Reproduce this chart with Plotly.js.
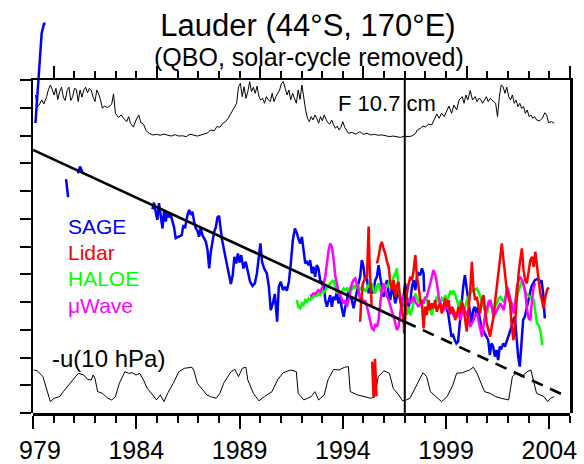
<!DOCTYPE html>
<html><head><meta charset="utf-8">
<script src="https://cdn.plot.ly/plotly-3.0.1.min.js"></script>
<style>html,body{margin:0;padding:0;background:#fff}#chart{width:584px;height:464px}</style>
</head><body><div id="chart"></div>
<script>
// ---- data (years, values in the chart's arbitrary stacked units) ----
const f107 = [[1979.12,11.46],[1979.21,11.04],[1979.30,11.10],[1979.42,11.28],[1979.53,11.14],[1979.66,11.40],[1979.75,11.66],[1979.84,11.82],[1979.93,11.66],[1980.02,11.46],[1980.11,11.70],[1980.20,11.30],[1980.29,11.58],[1980.38,11.74],[1980.47,11.38],[1980.56,11.26],[1980.65,11.62],[1980.74,11.74],[1980.83,11.26],[1980.92,11.40],[1981.01,11.70],[1981.10,11.66],[1981.19,11.22],[1981.28,11.64],[1981.37,11.38],[1981.46,11.64],[1981.55,11.74],[1981.64,11.54],[1981.73,11.70],[1981.82,11.64],[1981.91,11.38],[1982.00,11.22],[1982.09,11.64],[1982.18,11.50],[1982.27,11.28],[1982.36,10.98],[1982.45,11.06],[1982.60,11.01],[1982.72,11.06],[1982.81,11.13],[1982.90,11.50],[1982.99,10.80],[1983.14,10.65],[1983.27,10.74],[1983.39,10.62],[1983.54,10.50],[1983.63,10.68],[1983.72,10.44],[1983.86,10.30],[1983.99,10.56],[1984.12,10.74],[1984.23,10.46],[1984.35,10.41],[1984.48,10.17],[1984.62,10.08],[1984.80,10.02],[1984.98,10.04],[1985.16,10.01],[1985.34,10.05],[1985.52,10.02],[1985.70,9.98],[1985.88,10.03],[1986.06,9.98],[1986.24,9.99],[1986.42,9.96],[1986.60,10.05],[1986.78,10.02],[1986.96,9.98],[1987.14,10.02],[1987.33,10.08],[1987.47,10.10],[1987.60,10.20],[1987.78,10.17],[1987.90,10.32],[1988.05,10.30],[1988.19,10.44],[1988.32,10.50],[1988.45,10.62],[1988.59,10.80],[1988.73,11.01],[1988.86,11.16],[1988.95,11.76],[1989.04,11.88],[1989.13,11.40],[1989.22,11.76],[1989.31,11.34],[1989.40,11.58],[1989.49,11.94],[1989.58,11.58],[1989.67,11.74],[1989.76,11.52],[1989.85,11.78],[1989.94,11.40],[1990.03,11.28],[1990.12,11.34],[1990.21,11.16],[1990.30,11.40],[1990.40,11.28],[1990.49,11.22],[1990.58,11.52],[1990.67,11.22],[1990.76,11.40],[1990.85,11.52],[1990.94,11.64],[1991.03,11.88],[1991.12,11.94],[1991.21,11.70],[1991.30,11.46],[1991.39,11.64],[1991.48,11.28],[1991.57,11.52],[1991.66,11.34],[1991.75,11.16],[1991.84,11.64],[1991.93,11.30],[1992.02,11.82],[1992.11,11.28],[1992.20,10.92],[1992.29,10.62],[1992.38,10.50],[1992.47,10.68],[1992.56,10.56],[1992.65,10.74],[1992.74,10.62],[1992.83,10.44],[1992.92,10.68],[1993.01,10.53],[1993.10,10.74],[1993.19,10.58],[1993.28,10.46],[1993.37,10.41],[1993.46,10.56],[1993.55,10.38],[1993.64,10.26],[1993.73,10.34],[1993.82,10.20],[1993.91,10.30],[1994.00,10.50],[1994.09,10.30],[1994.18,10.17],[1994.27,10.08],[1994.45,10.11],[1994.63,10.05],[1994.82,10.14],[1994.99,10.04],[1995.17,10.08],[1995.36,10.02],[1995.54,10.04],[1995.72,10.01],[1995.90,10.02],[1996.08,9.98],[1996.26,9.96],[1996.44,9.98],[1996.62,9.96],[1996.80,9.93],[1996.98,9.98],[1997.16,9.96],[1997.34,9.98],[1997.52,10.08],[1997.61,10.20],[1997.76,10.26],[1997.88,10.34],[1998.01,10.30],[1998.15,10.41],[1998.30,10.38],[1998.42,10.56],[1998.55,10.78],[1998.66,10.62],[1998.78,10.80],[1998.91,10.68],[1999.02,10.86],[1999.14,11.06],[1999.27,10.80],[1999.38,11.10],[1999.51,10.92],[1999.63,11.28],[1999.78,11.40],[1999.87,11.16],[1999.96,11.46],[2000.05,11.28],[2000.17,11.62],[2000.28,11.28],[2000.41,11.40],[2000.50,11.22],[2000.59,11.34],[2000.68,11.30],[2000.77,11.16],[2000.86,11.28],[2000.95,11.40],[2001.04,11.22],[2001.13,11.34],[2001.22,11.28],[2001.31,11.22],[2001.40,11.16],[2001.49,10.68],[2001.58,11.40],[2001.67,11.82],[2001.76,11.76],[2001.85,11.52],[2001.94,11.74],[2002.03,11.40],[2002.12,11.28],[2002.21,11.46],[2002.30,11.16],[2002.39,11.28],[2002.48,11.04],[2002.57,11.16],[2002.66,10.98],[2002.75,11.04],[2002.84,10.80],[2002.93,10.92],[2003.02,10.68],[2003.11,10.74],[2003.20,10.62],[2003.29,10.68],[2003.38,10.56],[2003.53,10.53],[2003.66,10.62],[2003.78,10.82],[2003.87,10.74],[2003.96,10.46],[2004.11,10.50],[2004.23,10.44]];

const uWind = [[1979.04,1.55],[1979.21,1.52],[1979.48,1.31],[1979.84,0.41],[1980.02,0.53],[1980.29,0.59],[1980.47,0.77],[1980.74,1.01],[1981.01,1.25],[1981.19,1.43],[1981.46,1.37],[1981.64,1.21],[1981.82,1.19],[1981.91,1.37],[1982.00,1.25],[1982.13,0.77],[1982.36,0.71],[1982.63,0.53],[1982.81,0.47],[1982.99,0.59],[1983.18,1.07],[1983.45,1.49],[1983.63,1.43],[1983.81,1.45],[1983.99,1.37],[1984.17,1.43],[1984.35,1.19],[1984.53,0.89],[1984.80,0.65],[1984.98,0.47],[1985.16,0.65],[1985.34,0.41],[1985.52,0.71],[1985.79,1.07],[1986.06,1.49],[1986.33,1.61],[1986.69,1.65],[1986.78,1.55],[1986.96,1.07],[1987.23,0.83],[1987.42,0.65],[1987.60,0.59],[1987.87,0.53],[1988.05,0.71],[1988.23,1.07],[1988.59,1.49],[1988.77,1.57],[1988.95,1.31],[1989.13,1.61],[1989.31,1.65],[1989.40,1.19],[1989.67,0.71],[1989.94,0.44],[1990.21,0.59],[1990.57,0.77],[1990.84,1.19],[1991.11,1.45],[1991.48,1.55],[1991.75,1.49],[1991.84,0.71],[1992.11,0.47],[1992.47,0.59],[1992.65,0.77],[1992.83,0.47],[1993.10,0.65],[1993.28,1.19],[1993.55,1.57],[1993.82,1.55],[1994.09,1.65],[1994.27,1.67],[1994.36,0.77],[1994.72,0.65],[1994.99,0.59],[1995.36,0.53],[1995.54,0.59],[1995.72,1.31],[1995.99,1.52],[1996.26,1.43],[1996.44,0.89],[1996.71,0.65],[1996.89,0.44],[1997.07,0.47],[1997.25,0.53],[1997.61,1.07],[1997.88,1.45],[1998.06,1.31],[1998.24,0.77],[1998.51,0.59],[1998.78,0.41],[1999.05,0.59],[1999.33,1.01],[1999.51,1.43],[1999.78,1.45],[2000.14,1.55],[2000.32,1.65],[2000.50,1.43],[2000.86,0.77],[2001.13,0.71],[2001.40,0.59],[2001.67,0.53],[2002.03,0.47],[2002.21,1.31],[2002.39,1.43],[2002.66,1.31],[2002.93,1.49],[2003.11,1.55],[2003.38,0.71],[2003.74,0.59],[2003.92,0.41],[2004.06,0.53],[2004.23,0.59]];

const sage = [[1979.12,10.45],[1979.20,11.28],[1979.35,12.97],[1979.42,13.69],[1979.53,14.02],[1979.60,14.05],[1979.65,null],[1980.60,8.43],[1980.70,7.78],[1980.80,null],[1981.17,8.64],[1981.28,8.88],[1981.41,8.64],[1981.50,null],[1984.78,7.34],[1984.86,7.58],[1984.94,7.25],[1985.02,6.96],[1985.10,7.56],[1985.19,7.14],[1985.27,6.65],[1985.35,7.32],[1985.43,6.90],[1985.51,7.25],[1985.59,7.05],[1985.67,7.14],[1985.75,6.90],[1985.83,6.69],[1985.91,6.30],[1986.20,6.41],[1986.28,6.77],[1986.36,6.66],[1986.48,7.14],[1986.56,7.32],[1986.64,7.14],[1986.72,7.25],[1986.80,6.90],[1986.88,6.66],[1986.96,6.57],[1987.04,6.35],[1987.12,6.69],[1987.20,6.41],[1987.28,6.30],[1987.37,6.17],[1987.45,5.87],[1987.53,5.21],[1987.61,5.81],[1987.69,6.23],[1987.77,6.53],[1987.85,6.69],[1987.93,7.05],[1988.01,7.10],[1988.14,6.30],[1988.25,5.87],[1988.35,5.45],[1988.46,5.09],[1988.58,4.65],[1988.67,4.97],[1988.75,5.63],[1988.84,5.39],[1988.92,5.75],[1989.00,5.42],[1989.08,5.69],[1989.19,5.21],[1989.30,5.45],[1989.42,5.09],[1989.51,4.73],[1989.63,4.58],[1989.74,4.67],[1989.84,5.03],[1989.93,5.75],[1990.01,6.11],[1990.09,5.45],[1990.19,5.21],[1990.32,5.03],[1990.42,4.55],[1990.51,3.71],[1990.61,3.95],[1990.71,4.29],[1990.82,3.29],[1990.90,4.55],[1991.00,4.73],[1991.10,4.43],[1991.19,4.55],[1991.29,4.41],[1991.39,4.73],[1991.48,5.37],[1991.58,6.23],[1991.68,6.65],[1991.77,6.50],[1991.87,6.23],[1991.94,6.11],[1992.02,6.35],[1992.18,5.39],[1992.26,5.45],[1992.34,5.33],[1992.42,5.51],[1992.50,5.03],[1992.58,5.27],[1992.66,4.91],[1992.74,5.33],[1992.82,5.21],[1992.90,4.79],[1992.99,4.67],[1993.07,4.73],[1993.15,4.07],[1993.23,3.83],[1993.31,4.01],[1993.39,4.25],[1993.47,3.83],[1993.55,4.19],[1993.63,4.07],[1993.71,4.37],[1993.79,3.95],[1993.87,4.19],[1993.95,3.77],[1994.04,3.47],[1994.12,3.83],[1994.20,4.07],[1994.28,4.43],[1994.36,4.19],[1994.44,4.07],[1994.52,3.77],[1994.60,4.07],[1994.68,4.43],[1994.76,4.67],[1994.84,4.91],[1994.92,5.51],[1995.00,5.27],[1995.08,4.79],[1995.17,4.85],[1995.25,4.31],[1995.33,4.67],[1995.41,4.31],[1995.49,4.43],[1995.57,4.79],[1995.65,4.91],[1995.73,5.33],[1995.81,4.91],[1995.89,4.55],[1995.97,4.19],[1996.05,4.55],[1996.14,4.79],[1996.22,4.31],[1996.30,4.07],[1996.38,4.55],[1996.46,4.31],[1996.54,3.95],[1996.62,4.19],[1996.70,4.43],[1996.78,4.07],[1996.86,3.83],[1996.94,4.19],[1997.02,4.67],[1997.10,4.19],[1997.19,3.83],[1997.27,4.07],[1997.35,4.55],[1997.43,4.79],[1997.51,4.43],[1997.59,4.91],[1997.67,5.03],[1997.75,4.97],[1997.83,5.21],[1997.91,5.03],[1997.94,4.37],[1998.00,null],[1998.94,3.95],[1999.10,3.59],[1999.26,2.75],[1999.34,2.81],[1999.42,2.63],[1999.50,2.51],[1999.58,2.57],[1999.67,3.35],[1999.75,4.07],[1999.83,4.55],[1999.91,4.97],[1999.99,4.49],[2000.07,4.07],[2000.15,3.59],[2000.23,3.23],[2000.31,3.71],[2000.39,3.83],[2000.47,3.53],[2000.55,3.83],[2000.63,3.41],[2000.71,3.11],[2000.87,2.87],[2001.04,2.63],[2001.12,2.09],[2001.20,2.51],[2001.28,2.39],[2001.36,2.03],[2001.44,2.27],[2001.52,1.91],[2001.60,2.39],[2001.68,2.33],[2001.77,2.51],[2001.85,2.39],[2002.17,3.11],[2002.25,3.35],[2002.33,3.47],[2002.41,2.63],[2002.49,2.03],[2002.57,1.67],[2002.65,2.63],[2002.73,3.35],[2002.81,3.47],[2002.97,4.07],[2003.13,4.55],[2003.30,4.79],[2003.46,4.85],[2003.54,4.67],[2003.62,4.79],[2003.70,4.31],[2003.78,3.41]];

const lidar = [[1994.84,3.29],[1994.89,4.07],[1994.97,4.67],[1995.08,4.85],[1995.17,4.91],[1995.25,6.72],[1995.30,5.27],[1995.36,4.19],[1995.40,3.83],[1995.41,null],[1995.42,1.85],[1995.49,0.55],[1995.56,1.95],[1995.63,0.60],[1995.64,null],[1995.65,5.39],[1995.73,5.63],[1995.81,5.99],[1995.89,6.17],[1995.97,5.93],[1996.05,5.75],[1996.14,5.45],[1996.22,5.27],[1996.30,4.67],[1996.38,4.43],[1996.46,4.79],[1996.54,4.19],[1996.62,4.61],[1996.70,4.73],[1996.78,4.07],[1996.86,3.71],[1996.94,3.35],[1996.97,2.87],[1997.03,3.71],[1997.10,4.31],[1997.19,4.67],[1997.27,4.91],[1997.35,4.79],[1997.43,5.15],[1997.51,5.69],[1997.59,4.91],[1997.67,4.55],[1997.75,4.07],[1997.83,3.95],[1997.91,3.05],[1997.99,3.83],[1998.07,3.53],[1998.15,4.07],[1998.23,3.71],[1998.31,3.95],[1998.39,3.77],[1998.47,4.07],[1998.55,3.65],[1998.63,3.83],[1998.71,3.95],[1998.79,3.59],[1998.88,3.95],[1998.96,4.13],[1999.04,3.83],[1999.12,4.07],[1999.20,3.59],[1999.28,3.83],[1999.36,3.71],[1999.44,3.35],[1999.52,3.53],[1999.60,3.83],[1999.68,3.59],[1999.76,4.01],[1999.84,3.83],[1999.92,3.35],[2000.00,2.93],[2000.08,3.71],[2000.17,4.43],[2000.25,5.45],[2000.33,4.43],[2000.41,4.07],[2000.49,4.19],[2000.57,3.83],[2000.65,3.59],[2000.73,4.07],[2000.81,4.25],[2000.89,3.71],[2000.97,3.23],[2001.05,2.99],[2001.13,2.75],[2001.21,3.11],[2001.30,3.47],[2001.38,4.07],[2001.46,4.55],[2001.54,5.03],[2001.62,5.51],[2001.70,6.11],[2001.78,5.51],[2001.86,4.97],[2001.94,4.43],[2002.02,4.19],[2002.10,3.95],[2002.18,3.11],[2002.26,2.63],[2002.35,3.35],[2002.43,4.43],[2002.51,5.03],[2002.59,5.51],[2002.67,5.93],[2002.75,5.15],[2002.83,4.79],[2002.91,4.67],[2003.00,5.15],[2003.08,5.51],[2003.16,5.63],[2003.24,5.27],[2003.32,5.81],[2003.40,5.27],[2003.48,4.91],[2003.56,4.31],[2003.64,4.07],[2003.72,3.77],[2003.81,4.19],[2003.89,4.43],[2003.97,4.53]];

const haloe = [[1991.77,4.07],[1991.85,3.83],[1991.94,3.77],[1992.02,3.95],[1992.10,3.89],[1992.18,4.07],[1992.26,4.01],[1992.34,4.13],[1992.42,4.07],[1992.50,4.19],[1992.58,4.17],[1992.66,4.25],[1992.74,4.22],[1992.82,4.29],[1992.90,4.25],[1992.99,4.37],[1993.07,4.34],[1993.15,4.43],[1993.23,4.53],[1993.31,4.58],[1993.39,4.67],[1993.47,4.73],[1993.55,4.79],[1993.63,4.55],[1993.71,4.31],[1993.79,4.43],[1993.87,4.25],[1993.95,4.37],[1994.04,4.49],[1994.12,4.43],[1994.20,4.49],[1994.28,4.37],[1994.36,4.55],[1994.44,4.43],[1994.52,4.61],[1994.60,4.49],[1994.68,4.67],[1994.76,4.55],[1994.84,4.43],[1994.92,4.55],[1995.00,4.49],[1995.08,4.37],[1995.17,4.49],[1995.25,4.61],[1995.33,4.55],[1995.41,4.67],[1995.49,4.43],[1995.57,4.31],[1995.65,4.55],[1995.73,4.67],[1995.81,4.43],[1995.89,4.31],[1995.97,4.49],[1996.05,4.61],[1996.14,4.55],[1996.22,4.67],[1996.30,4.79],[1996.38,4.61],[1996.46,4.91],[1996.54,5.03],[1996.62,5.21],[1996.70,4.55],[1996.78,4.07],[1996.86,4.19],[1996.94,3.95],[1997.02,3.71],[1997.10,3.53],[1997.19,3.83],[1997.27,3.53],[1997.35,3.71],[1997.43,4.07],[1997.51,4.31],[1997.59,4.13],[1997.67,4.01],[1997.75,4.07],[1997.83,3.95],[1997.91,4.07],[1997.99,4.19],[1998.07,4.07],[1998.15,3.89],[1998.23,3.71],[1998.31,3.53],[1998.39,3.83],[1998.48,4.07],[1998.56,4.19],[1998.64,4.01],[1998.72,3.95],[1998.80,4.13],[1998.88,4.07],[1998.96,4.25],[1999.04,4.07],[1999.12,4.19],[1999.20,4.37],[1999.28,4.31],[1999.36,4.41],[1999.45,4.25],[1999.53,4.07],[1999.61,3.83],[1999.69,4.07],[1999.77,3.95],[1999.85,3.71],[1999.93,3.83],[2000.01,4.07],[2000.09,4.19],[2000.17,4.31],[2000.25,4.43],[2000.33,4.37],[2000.41,4.46],[2000.50,4.49],[2000.58,4.37],[2000.66,4.19],[2000.74,4.01],[2000.82,3.83],[2000.90,3.65],[2000.98,3.59],[2001.06,3.83],[2001.14,4.07],[2001.22,3.89],[2001.30,3.71],[2001.38,3.83],[2001.46,3.95],[2001.54,4.13],[2001.63,4.19],[2001.71,4.07],[2001.79,4.01],[2001.87,4.19],[2001.95,4.31],[2002.03,4.19],[2002.11,4.07],[2002.19,3.95],[2002.27,3.83],[2002.35,4.01],[2002.43,4.19],[2002.51,4.37],[2002.59,4.55],[2002.68,4.79],[2002.76,4.55],[2002.84,4.37],[2002.92,4.25],[2003.00,4.22],[2003.08,4.19],[2003.16,4.13],[2003.24,4.07],[2003.32,3.71],[2003.40,3.23],[2003.48,3.17],[2003.56,2.99],[2003.66,2.45]];

const mwave = [[1992.42,4.19],[1992.50,4.25],[1992.58,4.31],[1992.66,4.29],[1992.74,4.37],[1992.82,4.43],[1992.90,4.37],[1992.99,4.49],[1993.07,4.67],[1993.15,4.91],[1993.23,5.39],[1993.31,5.87],[1993.39,6.11],[1993.47,5.99],[1993.55,5.57],[1993.63,4.97],[1993.71,4.67],[1993.79,4.37],[1993.87,4.25],[1993.95,4.07],[1994.04,3.95],[1994.12,4.07],[1994.20,3.83],[1994.28,4.07],[1994.36,4.37],[1994.44,4.67],[1994.52,4.79],[1994.60,4.85],[1994.68,4.67],[1994.76,4.43],[1994.84,4.07],[1994.92,4.19],[1995.00,3.95],[1995.08,4.07],[1995.17,3.83],[1995.25,3.59],[1995.33,3.35],[1995.41,3.05],[1995.49,2.99],[1995.57,3.17],[1995.65,3.11],[1995.73,3.35],[1995.81,3.95],[1995.89,4.43],[1995.97,4.67],[1996.05,4.43],[1996.14,4.19],[1996.22,4.07],[1996.30,3.83],[1996.38,3.65],[1996.46,3.47],[1996.54,3.23],[1996.62,2.99],[1996.70,3.11],[1996.78,3.71],[1996.86,4.07],[1996.94,4.25],[1997.02,4.13],[1997.10,4.01],[1997.19,4.07],[1997.27,3.95],[1997.35,4.07],[1997.43,4.19],[1997.51,4.01],[1997.59,3.89],[1997.67,3.83],[1997.75,3.95],[1997.83,4.07],[1997.91,3.95],[1997.99,4.13],[1998.07,4.19],[1998.15,4.43],[1998.23,4.67],[1998.31,4.85],[1998.39,5.15],[1998.48,4.97],[1998.56,4.67],[1998.64,4.19],[1998.72,3.95],[1998.80,3.83],[1998.88,3.71],[1998.96,3.77],[1999.04,3.89],[1999.12,3.71],[1999.20,3.59],[1999.28,3.65],[1999.36,3.53],[1999.45,3.59],[1999.53,3.47],[1999.61,3.59],[1999.69,3.35],[1999.77,3.59],[1999.85,3.83],[1999.93,3.65],[2000.01,3.59],[2000.09,3.35],[2000.17,3.11],[2000.25,3.23],[2000.33,3.35],[2000.41,3.53],[2000.50,3.59],[2000.58,3.29],[2000.66,3.05],[2000.74,2.75],[2000.82,3.17],[2000.90,3.59],[2000.98,3.77],[2001.06,4.01],[2001.14,4.07],[2001.22,3.71],[2001.30,3.47],[2001.38,3.59],[2001.46,3.71],[2001.54,3.83],[2001.63,3.95],[2001.71,3.83],[2001.79,3.71],[2001.87,4.07],[2001.95,4.55],[2002.03,4.37],[2002.11,4.07],[2002.19,3.83],[2002.27,3.59],[2002.35,3.95],[2002.43,4.55],[2002.51,4.79],[2002.59,4.91],[2002.68,4.79],[2002.76,4.61],[2002.84,4.31],[2002.92,3.71],[2003.00,3.41],[2003.08,3.35],[2003.16,4.07],[2003.24,4.55],[2003.32,4.67]];

const trendYears = [1979, 1997, 2004.63];
const trendValues = [9.48, 3.29, 0.67];
const breakYear = 1997;

const seriesNames = ['SAGE', 'Lidar', 'HALOE', '\u03bcWave'];
const seriesColors = ['#0000ff', '#ff0000', '#00ff00', '#ff00ff'];
const bottomTickVals = [1979, 1984, 1989, 1994, 1999, 2004];
const bottomTickText = ['\u00a0\u00a0979', '1984', '1989', '1994', '1999', '2004'];
const topTickVals = [1980, 1985, 1990, 1995, 2000, 2005];

// ---- layout geometry ----
const W = 584, H = 464;
const padL = 33, padR = 570, padTop = 80, padBot = 413;
const yMax = 12;
const mainTopFrac = (padBot - padTop) / padBot;
const fullYMax = yMax / mainTopFrac;
const FONT = 'Liberation Sans, Arial, Helvetica, sans-serif';

const xs = p => p.map(d => d[0]);
const ys = p => p.map(d => d[1]);

const minorBottom = [], minorTop = [];
for (let yr = 1979; yr <= 2005; yr++) {
  if (!bottomTickVals.includes(yr)) minorBottom.push(yr);
  if (!topTickVals.includes(yr) && yr > 1979) minorTop.push(yr);
}

const seriesData = [sage, lidar, haloe, mwave];
const drawOrder = [0, 2, 3, 1];

const traces = [
  // carrier for the top (year-tick) axis; draws nothing
  {x: [1979, 2005], y: [null, null], xaxis: 'x2', yaxis: 'y', mode: 'lines', showlegend: false, hoverinfo: 'skip'},
  {x: xs(f107), y: ys(f107), name: 'F 10.7 cm', mode: 'lines', xaxis: 'x', yaxis: 'y3', line: {color: '#000', width: 1}},
  {x: xs(uWind), y: ys(uWind), name: '-u(10 hPa)', mode: 'lines', xaxis: 'x', yaxis: 'y3', line: {color: '#000', width: 1}}
];
drawOrder.forEach(i => {
  traces.push({x: xs(seriesData[i]), y: ys(seriesData[i]), name: seriesNames[i], mode: 'lines',
    xaxis: 'x', yaxis: 'y3', connectgaps: false, line: {color: seriesColors[i], width: 2.5}});
});
traces.push({x: trendYears.slice(0, 2), y: trendValues.slice(0, 2), name: 'trend', mode: 'lines',
  xaxis: 'x', yaxis: 'y3', line: {color: '#000', width: 2.6}});
traces.push({x: trendYears.slice(1), y: trendValues.slice(1), name: 'trend (extrapolated)', mode: 'lines',
  xaxis: 'x', yaxis: 'y3', line: {color: '#000', width: 2.6, dash: '12px,8px'}});

const paperY = px => (padBot - px) / padBot;

const annotations = [];
const labelY = [6.72, 5.78, 4.83, 3.87];
seriesNames.forEach((n, i) => {
  annotations.push({text: n, x: 1980.62, y: labelY[i], xref: 'x', yref: 'y', xanchor: 'left', yanchor: 'middle',
    showarrow: false, font: {family: FONT, size: 21, color: seriesColors[i]}});
});
annotations.push({text: 'F 10.7 cm', x: 1993.66, y: 11.14, xref: 'x', yref: 'y', xanchor: 'left', yanchor: 'middle',
  showarrow: false, font: {family: FONT, size: 22, color: '#000'}});
annotations.push({text: '-u(10 hPa)', x: 1979.84, y: 1.98, xref: 'x', yref: 'y', xanchor: 'left', yanchor: 'middle',
  showarrow: false, font: {family: FONT, size: 24, color: '#000'}});
annotations.push({text: '(QBO, solar-cycle removed)', x: 309 / W * W, xref: 'paper', y: paperY(57), yref: 'paper',
  xanchor: 'center', yanchor: 'middle', showarrow: false, font: {family: FONT, size: 25, color: '#000'}});
// convert subtitle x from pixel to paper fraction
annotations[annotations.length - 1].x = (309 - padL) / (padR - padL);

const layout = {
  width: W, height: H,
  margin: {l: padL, r: W - padR, t: 0, b: H - padBot, pad: 0},
  paper_bgcolor: '#fff', plot_bgcolor: 'rgba(0,0,0,0)',
  showlegend: false, hovermode: false,
  font: {family: FONT, color: '#000'},
  title: {text: 'Lauder (44°S, 170°E)', font: {family: FONT, size: 31, color: '#000'},
    x: 308 / W, xref: 'container', xanchor: 'center', y: 1 - 25 / H, yref: 'container', yanchor: 'middle'},
  xaxis: {range: [1979, 2005], anchor: 'y', tickmode: 'array', tickvals: bottomTickVals, ticktext: bottomTickText,
    ticks: 'outside', ticklen: 13, tickwidth: 2, tickcolor: '#000', showline: true, linewidth: 2.5, linecolor: '#000',
    showgrid: false, zeroline: false, tickfont: {family: FONT, size: 25, color: '#000'},
    minor: {tickmode: 'array', tickvals: minorBottom, ticks: 'outside', ticklen: 7, tickwidth: 2, tickcolor: '#000', showgrid: false}},
  xaxis2: {range: [1979, 2005], overlaying: 'x', anchor: 'y', side: 'top', tickmode: 'array', tickvals: topTickVals,
    ticks: 'outside', ticklen: 12, tickwidth: 2, tickcolor: '#000', showticklabels: false, showline: true, linewidth: 2.5,
    linecolor: '#000', showgrid: false, zeroline: false,
    minor: {tickmode: 'array', tickvals: minorTop, ticks: 'outside', ticklen: 7, tickwidth: 2, tickcolor: '#000', showgrid: false}},
  yaxis: {domain: [0, mainTopFrac], range: [0, yMax], anchor: 'x', tickmode: 'linear', tick0: 0, dtick: 1,
    ticks: 'outside', ticklen: 11, tickwidth: 2, tickcolor: '#000', showticklabels: false, showline: true,
    linewidth: 2.5, linecolor: '#000', mirror: true, showgrid: false, zeroline: false},
  yaxis3: {domain: [0, 1], range: [0, fullYMax], anchor: 'x', visible: false, showgrid: false, zeroline: false},
  shapes: [{type: 'line', xref: 'x', yref: 'y', x0: breakYear, x1: breakYear, y0: 0, y1: yMax,
    line: {color: '#000', width: 2}, layer: 'above'}],
  annotations: annotations
};

Plotly.newPlot('chart', traces, layout, {staticPlot: true, displayModeBar: false});
</script>
</body></html>
